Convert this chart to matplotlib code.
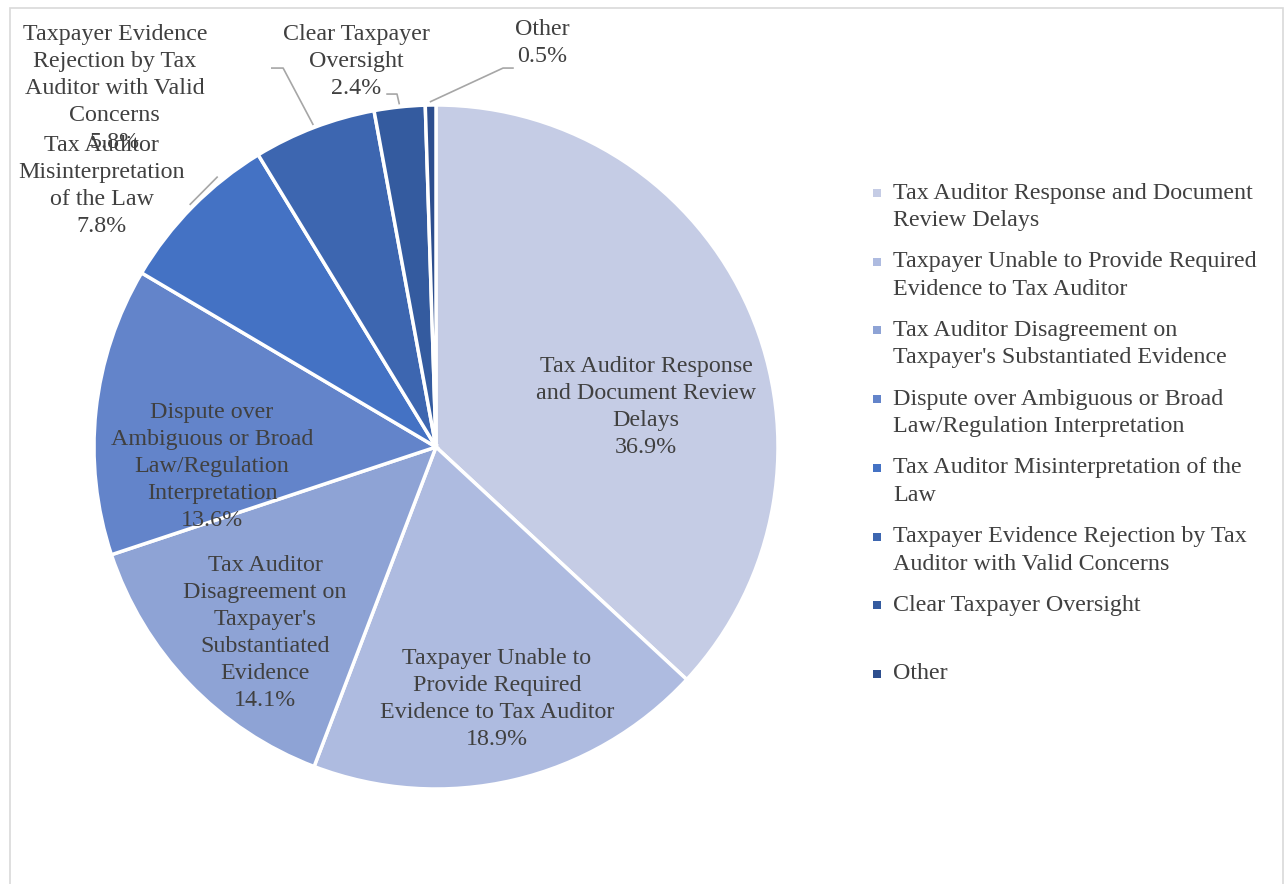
import numpy as np
import matplotlib
matplotlib.use("Agg")
import matplotlib.pyplot as plt
from matplotlib.patches import Rectangle

# ---- data ----
categories = [
    "Tax Auditor Response and Document Review Delays",
    "Taxpayer Unable to Provide Required Evidence to Tax Auditor",
    "Tax Auditor Disagreement on Taxpayer's Substantiated Evidence",
    "Dispute over Ambiguous or Broad Law/Regulation Interpretation",
    "Tax Auditor Misinterpretation of the Law",
    "Taxpayer Evidence Rejection by Tax Auditor with Valid Concerns",
    "Clear Taxpayer Oversight",
    "Other",
]
shares = [36.9, 18.9, 14.1, 13.6, 7.8, 5.8, 2.4, 0.5]

# wrapped label text (as shown on slices)
slice_label_text = [
    "Tax Auditor Response\nand Document Review\nDelays",
    "Taxpayer Unable to\nProvide Required\nEvidence to Tax Auditor",
    "Tax Auditor\nDisagreement on\nTaxpayer's\nSubstantiated\nEvidence",
    "Dispute over\nAmbiguous or Broad\nLaw/Regulation\nInterpretation",
    "Tax Auditor\nMisinterpretation\nof the Law",
    "Taxpayer Evidence\nRejection by Tax\nAuditor with Valid\nConcerns",
    "Clear Taxpayer\nOversight",
    "Other",
]
legend_text = [
    "Tax Auditor Response and Document\nReview Delays",
    "Taxpayer Unable to Provide Required\nEvidence to Tax Auditor",
    "Tax Auditor Disagreement on\nTaxpayer's Substantiated Evidence",
    "Dispute over Ambiguous or Broad\nLaw/Regulation Interpretation",
    "Tax Auditor Misinterpretation of the\nLaw",
    "Taxpayer Evidence Rejection by Tax\nAuditor with Valid Concerns",
    "Clear Taxpayer Oversight",
    "Other",
]

# ---- styles ----
colors = ["#C5CCE5", "#AEBBE0", "#8EA3D5", "#6384CA",
          "#4472C4", "#3D66B0", "#345B9F", "#2D4E8E"]
text_color = "#404040"
font = "Liberation Serif"
fs = 17.3
lsp = 1.38

# label centres (axes data units, pie radius = 1)
label_pos = [(0.614, 0.117), (0.178, -0.737), (-0.50, -0.544), (-0.655, -0.058),
             (-0.977, 0.763), (-0.939, 1.048), (-0.234, 1.127), (0.31, 1.181)]
# leader line waypoints (after the slice edge point), None = no leader
leader_pts = [None, None, None, None,
              [(-0.640, 0.789)],
              [(-0.447, 1.108), (-0.480, 1.108)],
              [(-0.114, 1.032), (-0.143, 1.032)],
              [(0.196, 1.108), (0.225, 1.108)]]

W, H = 1285, 884
fig = plt.figure(figsize=(W / 100, H / 100), dpi=100)

# outer frame
fig.add_artist(Rectangle((10 / W, -0.05), (1283 - 10) / W, 1.05 - 8 / H,
                         transform=fig.transFigure, fill=False,
                         edgecolor="#D9D9D9", linewidth=1.2))

cx, cy, r = 436, 447, 342
ax = fig.add_axes([(cx - r) / W, (H - cy - r) / H, 2 * r / W, 2 * r / H])

wedges, _ = ax.pie(shares, colors=colors, startangle=90, counterclock=False,
                   radius=1.0,
                   wedgeprops=dict(edgecolor="white", linewidth=2.5))
ax.set_xlim(-1, 1)
ax.set_ylim(-1, 1)
ax.set_aspect("equal")
ax.axis("off")

total = sum(shares)
cum = np.cumsum([0] + shares)
for i, (txt, v) in enumerate(zip(slice_label_text, shares)):
    x, y = label_pos[i]
    ax.text(x, y, f"{txt}\n{v:.1f}%", ha="center", va="center",
            fontsize=fs, family=font, color=text_color, linespacing=lsp,
            clip_on=False)
    if leader_pts[i] is not None:
        mid = (cum[i] + cum[i + 1]) / 2 / total
        ang = np.deg2rad(90 - 360 * mid)
        pts = [(1.01 * np.cos(ang), 1.01 * np.sin(ang))] + leader_pts[i]
        xs, ys = zip(*pts)
        ax.plot(xs, ys, color="#A6A6A6", linewidth=1.2, clip_on=False)

# legend (manual, Excel-like: marker aligned with first line)
leg_x_text = 893 / W
y0, dy, line_dy = 193, 68.7, 27.5
for i, (txt, c) in enumerate(zip(legend_text, colors)):
    yp = y0 + i * dy
    fig.add_artist(Rectangle(((877 - 4) / W, (H - yp - 4) / H), 8 / W, 8 / H,
                             transform=fig.transFigure, facecolor=c,
                             edgecolor="none"))
    for j, line in enumerate(txt.split("\n")):
        fig.text(leg_x_text, (H - (yp + j * line_dy)) / H, line,
                 ha="left", va="center", fontsize=fs, family=font,
                 color=text_color)

fig.savefig("out.png", dpi=100, facecolor="white")
